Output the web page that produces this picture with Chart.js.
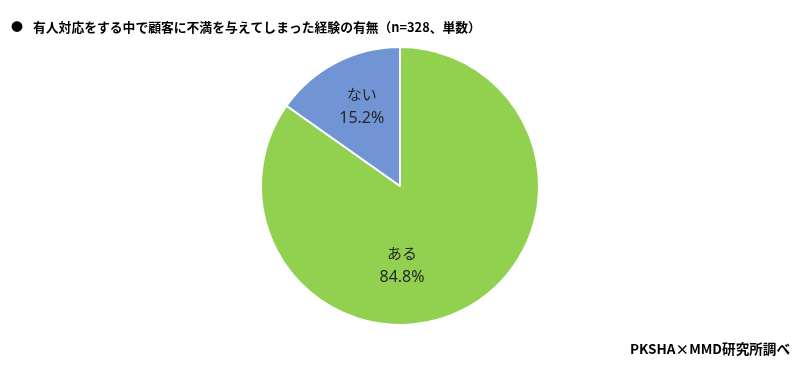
<!DOCTYPE html>
<html>
<head>
<meta charset="utf-8">
<script src="https://cdn.jsdelivr.net/npm/chart.js@4"></script>
<style>
  html, body { margin: 0; padding: 0; background: #fff; }
  #wrap { position: relative; width: 800px; height: 372px; }
</style>
</head>
<body>
<div id="wrap"><canvas id="pie" width="800" height="372"></canvas></div>
<script>
const categories = ['ある', 'ない'];
const values = [84.8, 15.2];
const sliceColors = ['#92D050', '#7094D4'];
const titleText = '有人対応をする中で顧客に不満を与えてしまった経験の有無（n=328、単数）';
const sourceText = 'PKSHA×MMD研究所調べ';

const JP_FONT = '"Noto Sans CJK JP", "Noto Sans", sans-serif';

// labels inside slices, drawn from the arc geometry
const sliceLabels = {
    id: 'sliceLabels',
    afterDatasetsDraw(chart) {
        const ctx = chart.ctx;
        const meta = chart.getDatasetMeta(0);
        ctx.save();
        ctx.fillStyle = '#262626';
        ctx.textAlign = 'center';
        ctx.textBaseline = 'middle';
        meta.data.forEach((arc, i) => {
            const p = arc.getProps(['x', 'y', 'startAngle', 'endAngle', 'outerRadius'], true);
            let mid = (p.startAngle + p.endAngle) / 2;
            let frac = 0.63;
            let shift = -2;
            // the big slice gets its label straight below the centre, like the original
            if (values[i] > 50) { mid = Math.PI / 2; frac = 0.57; shift = 0; }
            const x = p.x + Math.cos(mid) * p.outerRadius * frac + 2;
            const y = p.y + Math.sin(mid) * p.outerRadius * frac + shift;
            ctx.font = '15px ' + JP_FONT;
            ctx.fillText(categories[i], x, y - 12);
            ctx.font = '16px "Noto Sans", sans-serif';
            ctx.fillText(values[i].toFixed(1) + '%', x, y + 12);
        });
        ctx.restore();
    }
};

const headerFooter = {
    id: 'headerFooter',
    afterDraw(chart) {
        const ctx = chart.ctx;
        ctx.save();
        ctx.fillStyle = '#000';
        ctx.textBaseline = 'middle';
        ctx.textAlign = 'left';
        ctx.font = 'bold 12px ' + JP_FONT;
        ctx.fillText('●', 11, 27);
        ctx.font = 'bold 12.8px ' + JP_FONT;
        ctx.fillText(titleText, 33, 27);
        ctx.textAlign = 'right';
        ctx.font = 'bold 13.6px ' + JP_FONT;
        ctx.fillText(sourceText, 790, 349);
        ctx.restore();
    }
};

new Chart(document.getElementById('pie'), {
    type: 'pie',
    data: {
        labels: categories,
        datasets: [
            {
                data: values,
                backgroundColor: sliceColors,
                borderColor: '#ffffff',
                borderWidth: 2,
            },
        ],
    },
    options: {
        responsive: false,
        animation: false,
        layout: {
            padding: { top: 46, bottom: 46, left: 0, right: 0 },
        },
        plugins: {
            legend: { display: false },
            tooltip: { enabled: false },
        },
    },
    plugins: [sliceLabels, headerFooter],
});
</script>
</body>
</html>
